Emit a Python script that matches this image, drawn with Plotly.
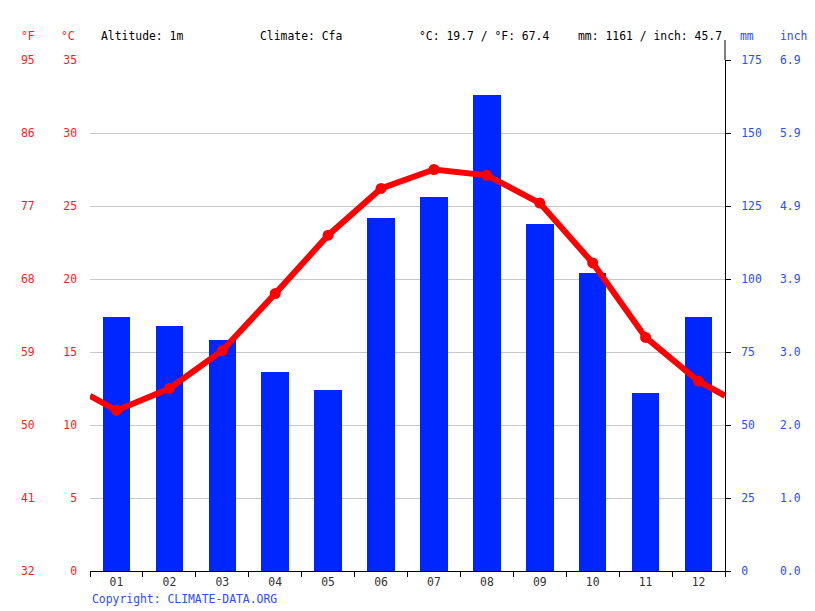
import plotly.graph_objects as go

months = ["01", "02", "03", "04", "05", "06", "07", "08", "09", "10", "11", "12"]
precip_mm = [87, 84, 79, 68, 62, 121, 128, 163, 119, 102, 61, 87]
temp_c = [11.0, 12.5, 15.1, 19.0, 23.0, 26.2, 27.5, 27.1, 25.2, 21.1, 16.0, 13.0]

c_ticks = [0, 5, 10, 15, 20, 25, 30, 35]
f_labels = ["32", "41", "50", "59", "68", "77", "86", "95"]
mm_ticks = [0, 25, 50, 75, 100, 125, 150, 175]
inch_labels = ["0.0", "1.0", "2.0", "3.0", "3.9", "4.9", "5.9", "6.9"]

header_altitude = "Altitude: 1m"
header_climate = "Climate: Cfa"
header_temp = "°C: 19.7 / °F: 67.4"
header_precip = "mm: 1161 / inch: 45.7"

FONT = "DejaVu Sans Mono"
FS = 11.4
RED = "#ff1a1a"
BLUE = "#2a4dff"
BAR = "#0026ff"

# plot area in page pixels
PL, PR, PT, PB = 90, 725, 60, 571
OFF = 8  # page body margin


def px(x):
    return (x - PL) / (PR - PL)


def py(y):
    return (PB - y) / (PB - PT)


x_idx = list(range(1, 13))
edge = (temp_c[0] + temp_c[-1]) / 2
line_x = [0.5] + x_idx + [12.5]
line_y = [edge] + temp_c + [edge]

fig = go.Figure()
fig.add_trace(go.Bar(x=x_idx, y=precip_mm, yaxis="y", marker_color=BAR,
                     marker_line_width=0, width=0.52, showlegend=False))
fig.add_trace(go.Scatter(x=line_x, y=line_y, mode="lines", yaxis="y2",
                         line=dict(color="#ff0000", width=6), showlegend=False))
fig.add_trace(go.Scatter(x=x_idx, y=temp_c, mode="markers", yaxis="y2",
                         marker=dict(color="#ff0000", size=11), showlegend=False))
fig.add_trace(go.Scatter(x=[1], y=[0], xaxis="x2", yaxis="y", mode="markers",
                         marker=dict(opacity=0), showlegend=False, hoverinfo="skip"))

annotations = []
for v, lab in zip(c_ticks, f_labels):
    annotations.append(dict(x=px(37), xref="paper", y=v, yref="y2", text=lab,
                            showarrow=False, xanchor="right", yanchor="middle",
                            font=dict(family=FONT, size=FS, color=RED)))
for v, lab in zip(mm_ticks, inch_labels):
    annotations.append(dict(x=px(778), xref="paper", y=v, yref="y", text=lab,
                            showarrow=False, xanchor="left", yanchor="middle",
                            font=dict(family=FONT, size=FS, color=BLUE)))


def top(text, x, color, anchor="left"):
    annotations.append(dict(x=px(x), xref="paper", y=py(36), yref="paper",
                            text=text, showarrow=False, xanchor=anchor, yanchor="middle",
                            font=dict(family=FONT, size=FS, color=color)))


top("°F", 37, RED, "right")
top("°C", 77, RED, "right")
top(header_altitude, 99, "#000000")
top(header_climate, 258, "#000000")
top(header_temp, 417, "#000000")
top(header_precip, 576, "#000000")
top("mm", 738, BLUE)
top("inch", 778, BLUE)
annotations.append(dict(x=px(90), xref="paper", y=py(599), yref="paper",
                        text="Copyright: CLIMATE-DATA.ORG", showarrow=False,
                        xanchor="left", yanchor="middle",
                        font=dict(family=FONT, size=FS, color=BLUE)))

fig.update_layout(
    width=815 - OFF, height=611 - OFF,
    margin=dict(l=PL - OFF, r=815 - PR, t=PT - OFF, b=611 - PB),
    plot_bgcolor="white", paper_bgcolor="white",
    bargap=0,
    xaxis=dict(range=[0.5, 12.5], tickvals=x_idx, ticktext=months, ticks="",
               showgrid=False, zeroline=False, showline=True, linecolor="#000000",
               linewidth=1, tickfont=dict(family=FONT, size=FS, color="#333333"),
               fixedrange=True),
    xaxis2=dict(range=[0.5, 12.5], overlaying="x", anchor="y",
                tickvals=[i + 0.5 for i in range(0, 13)], ticks="outside", ticklen=5,
                tickcolor="#000000", showticklabels=False, showgrid=False,
                zeroline=False),
    yaxis=dict(range=[0, 175], tickvals=mm_ticks, side="right",
               showgrid=True, gridcolor="#c8c8c8", gridwidth=1,
               zeroline=False, showline=True, linecolor="#000000",
               ticks="outside", ticklen=5, tickcolor="#000000",
               tickfont=dict(family=FONT, size=FS, color=BLUE), ticklabelstandoff=8),
    yaxis2=dict(range=[0, 35], tickvals=c_ticks, ticks="", overlaying="y", side="left",
                showgrid=False, zeroline=False, showline=False,
                tickfont=dict(family=FONT, size=FS, color=RED), ticklabelstandoff=12),
    annotations=annotations,
    shapes=[dict(type="line", xref="paper", yref="paper", x0=1, x1=1, y0=1,
                 y1=1 + 20 / (PB - PT), line=dict(color="#000000", width=1))],
)

fig.write_html("out.html")
